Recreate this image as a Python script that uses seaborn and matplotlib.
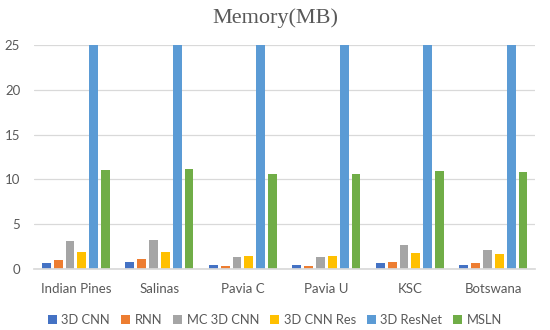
import matplotlib
matplotlib.use("Agg")
import matplotlib.pyplot as plt
import seaborn as sns
import pandas as pd
from matplotlib.patches import Patch

datasets = ["Indian Pines", "Salinas", "Pavia C", "Pavia U", "KSC", "Botswana"]
models = ["3D CNN", "RNN", "MC 3D CNN", "3D CNN Res", "3D ResNet", "MSLN"]
cnn3d = [0.6, 0.7, 0.35, 0.35, 0.6, 0.45]
rnn = [0.95, 1.05, 0.25, 0.25, 0.7, 0.6]
mc3dcnn = [3.05, 3.15, 1.25, 1.3, 2.6, 2.05]
cnnres = [1.85, 1.85, 1.4, 1.4, 1.75, 1.6]
resnet = [26.0, 26.0, 26.0, 26.0, 26.0, 26.0]
msln = [11.0, 11.1, 10.55, 10.55, 10.9, 10.8]
colors = ["#4472C4", "#ED7D31", "#A5A5A5", "#FFC000", "#5B9BD5", "#70AD47"]

series = [cnn3d, rnn, mc3dcnn, cnnres, resnet, msln]
rows = []
for m, vals in zip(models, series):
    for d, v in zip(datasets, vals):
        rows.append({"Dataset": d, "Model": m, "Memory": v})
df = pd.DataFrame(rows)

sns.set_theme(style="white")
plt.rcParams["font.family"] = ["Lato", "DejaVu Sans"]

fig = plt.figure(figsize=(5.5, 3.3), dpi=100)
ax = fig.add_axes([0.062, 0.186, 0.911, 0.677])
sns.barplot(data=df, x="Dataset", y="Memory", hue="Model", order=datasets,
            hue_order=models, palette=colors, width=0.85, gap=0.25,
            saturation=1, ax=ax, legend=False, linewidth=0)
ax.set_xlim(-0.5, len(datasets) - 0.5)
ax.set_ylim(0, 25)
ax.set_yticks([0, 5, 10, 15, 20, 25])
ax.yaxis.grid(True, color="#D9D9D9", linewidth=0.9)
ax.set_axisbelow(True)
for s in ["top", "right", "left"]:
    ax.spines[s].set_visible(False)
ax.spines["bottom"].set_color("#D9D9D9")
ax.set_xlabel("")
ax.set_ylabel("")
ax.tick_params(axis="both", length=0, colors="#595959", labelsize=9.5)
ax.tick_params(axis="x", pad=10)
ax.tick_params(axis="y", pad=10)
fig.text(0.5, 0.945, "Memory(MB)", ha="center", va="center", fontsize=16,
         color="#595959", family=["Liberation Serif", "DejaVu Serif"])
handles = [Patch(facecolor=c, edgecolor="none") for c in colors]
fig.legend(handles, models, loc="center", bbox_to_anchor=(0.5, 0.03), ncol=6,
           frameon=False, fontsize=9.3, handlelength=0.7, handleheight=0.7,
           handletextpad=0.35, columnspacing=0.85, labelcolor="#595959")
fig.savefig("out.png", dpi=100)
